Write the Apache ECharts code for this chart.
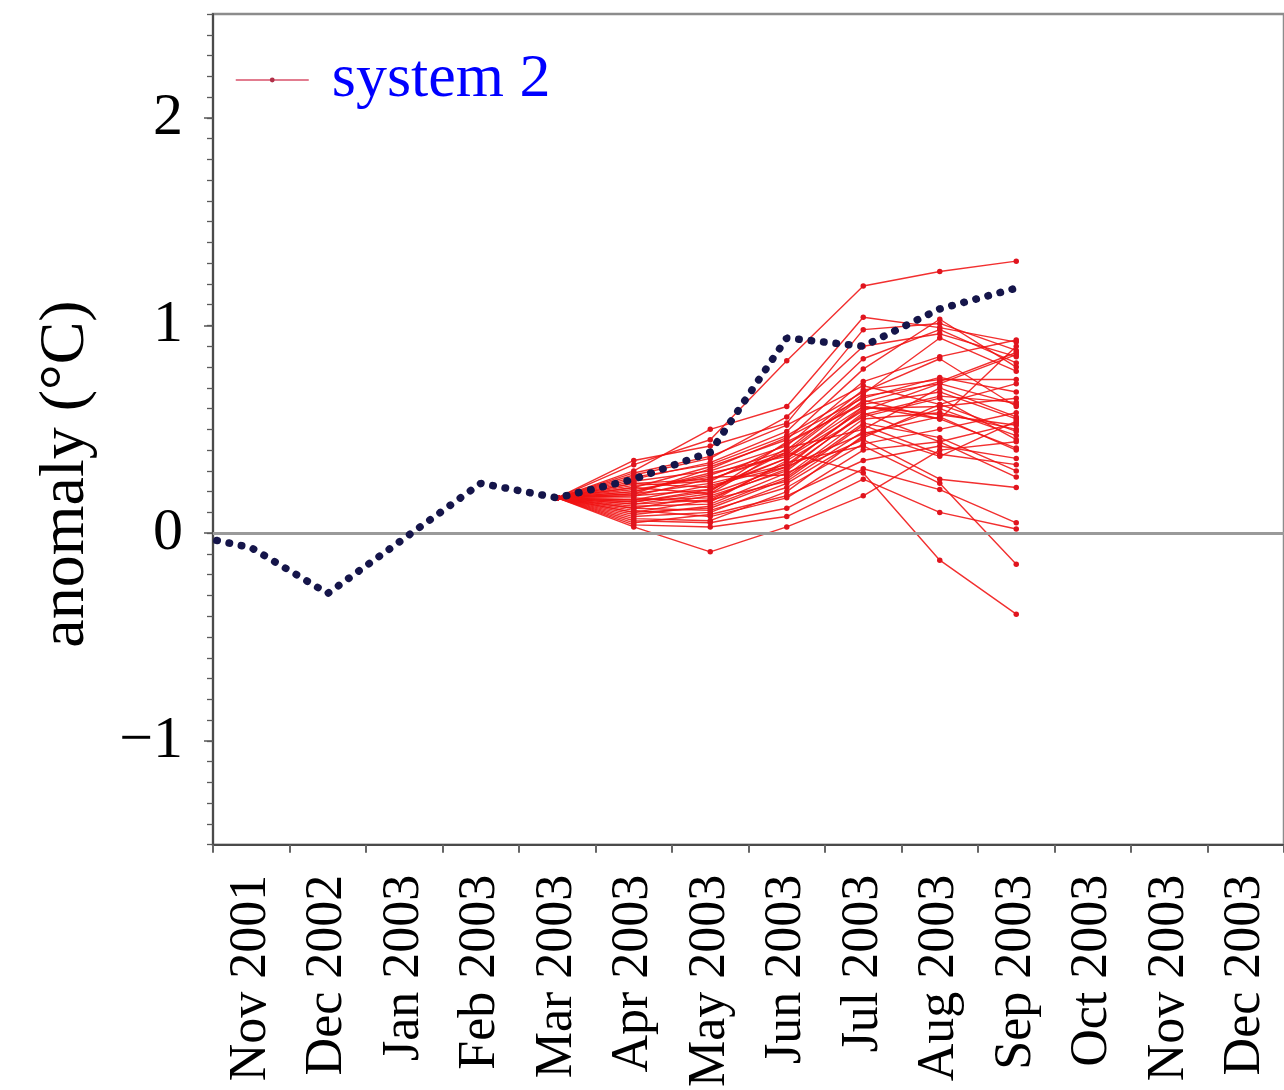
<!DOCTYPE html>
<html>
<head>
<meta charset="utf-8">
<script src="https://cdn.jsdelivr.net/npm/echarts@6/dist/echarts.min.js"></script>
<style>
  html, body { margin: 0; padding: 0; background: #ffffff; }
  #chart { width: 1284px; height: 1090px; }
</style>
</head>
<body>
<div id="chart"></div>
<script>
// Month categories along the x axis
const categories = ['Nov 2001', 'Dec 2002', 'Jan 2003', 'Feb 2003', 'Mar 2003', 'Apr 2003',
  'May 2003', 'Jun 2003', 'Jul 2003', 'Aug 2003', 'Sep 2003', 'Oct 2003', 'Nov 2003', 'Dec 2003'];

// Y axis labelled values
const yTickLabels = [-1, 0, 1, 2];

// Observed anomaly: position on the category scale and value
// (the record begins at the left edge of the first band)
const obsIndex = [-0.45, 0, 1, 2, 3, 4, 5, 6, 7, 8, 9, 10];
const obsValues = [-0.035, -0.07, -0.29, -0.025, 0.24, 0.17, 0.26, 0.39, 0.94, 0.90, 1.08, 1.18];

// Forecast ensemble members, all starting from the March 2003 analysis
const ensStart = 0.17;
const ensApr = [0.33, 0.30, 0.35, 0.28, 0.22, 0.25, 0.20, 0.18, 0.24, 0.15, 0.19, 0.12, 0.17, 0.21, 0.10, 0.14,
  0.16, 0.08, 0.13, 0.27, 0.11, 0.06, 0.04, 0.03, 0.18, 0.14, 0.23, 0.20, 0.09, 0.26, 0.16, 0.07,
  0.19, 0.12, 0.29, 0.15, 0.22, 0.10, 0.24, 0.05];
const ensMay = [0.45, 0.50, 0.42, 0.36, 0.32, 0.30, 0.28, 0.26, 0.22, 0.20, 0.24, 0.18, 0.15, 0.27, 0.12, 0.19,
  0.23, 0.10, 0.14, 0.33, 0.08, 0.05, 0.03, -0.09, 0.21, 0.16, 0.25, 0.29, 0.13, 0.34, 0.17, 0.06,
  0.31, 0.11, 0.37, 0.21, 0.19, 0.16, 0.26, 0.09];
const ensJun = [0.83, 0.61, 0.53, 0.56, 0.45, 0.42, 0.40, 0.38, 0.36, 0.44, 0.33, 0.30, 0.35, 0.28, 0.26, 0.41,
  0.32, 0.24, 0.29, 0.47, 0.17, 0.12, 0.08, 0.03, 0.39, 0.34, 0.43, 0.37, 0.27, 0.49, 0.31, 0.20,
  0.46, 0.22, 0.52, 0.36, 0.32, 0.25, 0.39, 0.18];
const ensJul = [1.19, 1.04, 0.98, 0.90, 0.79, 0.73, 0.69, 0.66, 0.64, 0.62, 0.60, 0.58, 0.56, 0.55, 0.52, 0.50,
  0.48, 0.46, 0.45, 0.68, 0.40, 0.31, 0.26, 0.18, 0.29, 0.42, 0.63, 0.61, 0.53, 0.84, 0.57, 0.47,
  0.65, 0.43, 0.71, 0.59, 0.61, 0.49, 0.67, 0.35];
const ensAug = [1.26, 0.99, 1.01, 0.96, 1.03, 0.85, 0.74, 0.72, 0.55, 0.68, 0.61, 0.44, 0.65, 0.58, 0.38, 0.70,
  0.56, 0.62, 0.26, 0.84, 0.44, 0.21, 0.10, 0.40, -0.13, 0.24, 0.73, 0.57, 0.46, 0.98, 0.66, 0.60,
  0.75, 0.50, 0.62, 0.72, 0.55, 0.37, 0.94, 0.42];
const ensSep = [1.31, 0.92, 0.88, 0.85, 0.80, 0.93, 0.74, 0.62, 0.90, 0.55, 0.65, 0.53, 0.45, 0.50, 0.33, 0.56,
  0.40, 0.72, 0.22, 0.61, 0.27, 0.05, 0.02, 0.44, -0.39, -0.15, 0.87, 0.52, 0.30, 0.82, 0.63, 0.47,
  0.68, 0.58, 0.49, 0.86, 0.41, 0.54, 0.78, 0.36];

const SERIF = "'Liberation Serif', 'Times New Roman', serif";
const startIdx = categories.indexOf('Mar 2003');

// One line series per ensemble member
const memberSeries = ensApr.map((_, k) => {
  const row = categories.map(() => null);
  const vals = [ensStart, ensApr[k], ensMay[k], ensJun[k], ensJul[k], ensAug[k], ensSep[k]];
  vals.forEach((v, j) => { row[startIdx + j] = v; });
  return {
    name: 'system 2',
    type: 'line',
    xAxisIndex: 0,
    yAxisIndex: 0,
    data: row,
    symbol: 'circle',
    symbolSize: 5.5,
    showSymbol: true,
    silent: true,
    z: 3,
    lineStyle: { color: 'rgba(240, 18, 18, 0.88)', width: 1.4 },
    itemStyle: { color: '#e0141e' },
    emphasis: { disabled: true },
    animation: false
  };
});

const chart = echarts.init(document.getElementById('chart'), null, { renderer: 'canvas' });

chart.setOption({
  backgroundColor: '#ffffff',
  animation: false,
  grid: {
    left: 213, top: 14, right: -3, bottom: 244,
    show: true, borderColor: '#8c8c8c', borderWidth: 2.5, backgroundColor: 'transparent'
  },
  legend: {
    data: ['system 2'],
    left: 230, top: 44,
    itemWidth: 73, itemHeight: 6,
    selectedMode: false,
    textStyle: { color: '#0000ff', fontSize: 62, fontFamily: SERIF, padding: [0, 0, 0, 18] },
    lineStyle: { color: '#d8506a', width: 1.5 },
    itemStyle: { color: '#b03048' }
  },
  xAxis: [
    {
      type: 'category',
      data: categories,
      boundaryGap: true,
      position: 'bottom',
      axisLine: { show: true, onZero: false, lineStyle: { color: '#4a4a4a', width: 2 } },
      axisTick: { show: true, alignWithLabel: false, length: 8, lineStyle: { color: '#666', width: 2 } },
      axisLabel: {
        rotate: 90, margin: 30, color: '#000', fontSize: 52, fontFamily: SERIF, interval: 0
      },
      splitLine: { show: false }
    },
    {
      // hidden linear scale aligned with the category bands, used for the observed record
      type: 'value',
      min: -0.5, max: categories.length - 0.5,
      show: false,
      position: 'bottom',
      axisLine: { onZero: false }
    }
  ],
  yAxis: [
    {
      type: 'value',
      min: -1.5, max: 2.5,
      position: 'left',
      axisLine: { show: true, onZero: false, lineStyle: { color: '#4a4a4a', width: 2 } },
      axisTick: { show: true, inside: false, length: 9, customValues: yTickLabels,
        lineStyle: { color: '#555', width: 1.5 } },
      axisLabel: {
        customValues: yTickLabels, margin: 30, color: '#000', fontSize: 60, fontFamily: SERIF,
        formatter: v => (v < 0 ? '\u2212' + Math.abs(v) : String(v))
      },
      splitLine: { show: false }
    },
    {
      // fine 0.1 ticks
      type: 'value',
      min: -1.5, max: 2.5, interval: 0.1,
      position: 'left',
      axisLine: { show: false, onZero: false },
      axisTick: { show: true, inside: false, length: 6, lineStyle: { color: '#5a5a5a', width: 1.3 } },
      axisLabel: { show: false },
      splitLine: { show: false }
    }
  ],
  graphic: [{
    type: 'text',
    x: 66, y: 474,
    rotation: Math.PI / 2,
    silent: true,
    style: {
      text: 'anomaly (\u00B0C)',
      fill: '#000',
      font: "64px 'Liberation Serif', 'Times New Roman', serif",
      align: 'center',
      verticalAlign: 'middle'
    }
  }],
  series: [
    {
      // zero reference line
      name: 'zero',
      type: 'line',
      data: [],
      z: 1,
      silent: true,
      markLine: {
        silent: true,
        symbol: 'none',
        label: { show: false },
        lineStyle: { color: '#9a9a9a', width: 3, type: 'solid' },
        data: [{ yAxis: 0 }],
        animation: false
      }
    },
    ...memberSeries,
    {
      name: 'observed',
      type: 'line',
      xAxisIndex: 1,
      yAxisIndex: 0,
      data: obsIndex.map((x, i) => [x, obsValues[i]]),
      showSymbol: false,
      symbol: 'none',
      clip: true,
      silent: true,
      z: 5,
      lineStyle: { color: '#15154a', width: 7.5, type: [0.5, 12], cap: 'round' },
      emphasis: { disabled: true }
    }
  ]
});
</script>
</body>
</html>
